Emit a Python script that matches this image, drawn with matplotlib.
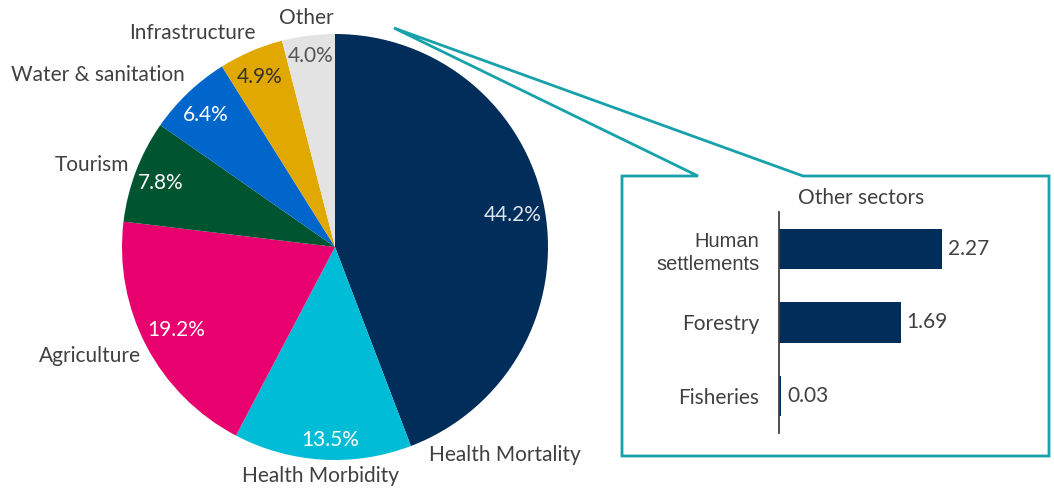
import matplotlib
matplotlib.use("Agg")
import matplotlib.pyplot as plt
from matplotlib.patches import Polygon

plt.rcParams['font.family'] = ['Lato', 'DejaVu Sans']

# pie data
sectors = ['Health Mortality', 'Health Morbidity', 'Agriculture', 'Tourism',
           'Water & sanitation', 'Infrastructure', 'Other']
shares = [44.2, 13.5, 19.2, 7.8, 6.4, 4.9, 4.0]
colors = ['#002d5a', '#00bcd6', '#e8006e', '#005430', '#0066cc', '#e0a800', '#e3e3e3']
pct_colors = ['#dde3ea', 'white', 'white', 'white', 'white', '#333333', '#555555']

# inset bar data
others = ['Human\nsettlements', 'Forestry', 'Fisheries']
other_vals = [2.27, 1.69, 0.03]

W, H = 1054, 488
fig = plt.figure(figsize=(W / 100, H / 100), dpi=100)

# main axes in pixel units (y up)
ax = fig.add_axes([0, 0, 1, 1])

cx, cy, r = 335, H - 247, 213
wedges, _ = ax.pie(shares, colors=colors, startangle=90, counterclock=False,
                   center=(cx, cy), radius=r, frame=True)
ax.set_xlim(0, W)
ax.set_ylim(0, H)
ax.set_aspect('equal')
ax.axis('off')

fs = 15
# label positions (image pixels)
name_pos = [(505, 455), (320, 476), (90, 356), (92, 165), (98, 75), (192, 33), (306, 18)]
pct_pos = [(513, 215), (330, 440), (176, 330), (161, 183), (206, 115), (260, 77), (311, 56)]
for i, s in enumerate(sectors):
    x, y = name_pos[i]
    ax.text(x, H - y, s, ha='center', va='center', fontsize=fs, color='#404040')
    x, y = pct_pos[i]
    ax.text(x, H - y, f'{shares[i]:.1f}%', ha='center', va='center', fontsize=fs,
            color=pct_colors[i])

# callout outline
teal = '#17a2ab'
callout = [(394, 28), (698, 176), (622, 176), (622, 456), (1049, 456),
           (1049, 176), (803, 176)]
ax.add_patch(Polygon([(x, H - y) for x, y in callout], closed=True, fill=False,
                     edgecolor=teal, linewidth=2, clip_on=False))

# inset bar chart
px = 72.0
bx0, by0, bw, bh = 779, H - 433, 250, 221
bax = fig.add_axes([bx0 / W, by0 / H, bw / W, bh / H])
ypos = list(range(len(others)))
bax.barh(ypos, other_vals, height=0.55, color='#002d5a')
bax.set_xlim(0, bw / px)
bax.set_ylim(2.5, -0.5)
for s in ['top', 'right', 'bottom']:
    bax.spines[s].set_visible(False)
bax.spines['left'].set_color('#404040')
bax.spines['left'].set_linewidth(1.3)
bax.set_xticks([])
bax.set_yticks(ypos)
bax.set_yticklabels(others, fontsize=fs, color='#404040')
lbl = bax.get_yticklabels()[0]
lbl.set_family('Liberation Sans')
lbl.set_fontsize(14.5)
lbl.set_linespacing(1.25)
bax.tick_params(axis='y', length=0, pad=14)
bax.patch.set_alpha(0)
for yv, v in zip(ypos, other_vals):
    bax.text(v + 0.08, yv, f'{v:.2f}', ha='left', va='center', fontsize=fs,
             color='#404040')
bax.set_title('Other sectors', fontsize=fs, color='#404040', pad=6, x=0.33)

fig.savefig('out.png', dpi=100)
